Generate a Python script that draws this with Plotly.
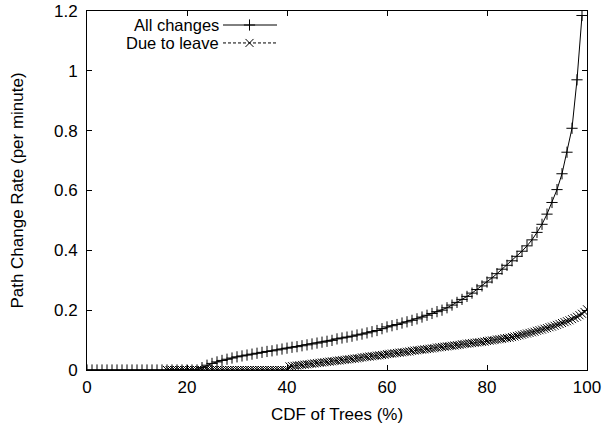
"""Path change rate vs CDF of trees, gnuplot-style line chart."""

import numpy as np
import plotly.graph_objects as go

FONT = "Liberation Sans, Arial, sans-serif"
FONT_SIZE = 17

# all changes: one point per percent, 0..99
ALL_X = np.arange(0, 100, 1.0)
ALL_Y = [
    0, 0, 0, 0, 0, 0, 0, 0, 0, 0,
    0, 0, 0, 0, 0, 0, 0, 0, 0, 0,
    0, 0, 0, 0.008, 0.016, 0.022, 0.027, 0.032, 0.036, 0.040,
    0.044, 0.047, 0.050, 0.053, 0.056, 0.059, 0.062, 0.064, 0.067, 0.070,
    0.073, 0.076, 0.078, 0.081, 0.084, 0.087, 0.090, 0.093, 0.096, 0.099,
    0.104, 0.107, 0.110, 0.113, 0.117, 0.120, 0.124, 0.128, 0.132, 0.138,
    0.144, 0.148, 0.152, 0.157, 0.161, 0.166, 0.171, 0.177, 0.183, 0.189,
    0.195, 0.200, 0.208, 0.217, 0.226, 0.236, 0.246, 0.257, 0.269, 0.281,
    0.294, 0.308, 0.322, 0.337, 0.350, 0.365, 0.380, 0.397, 0.415, 0.435,
    0.460, 0.487, 0.521, 0.560, 0.603, 0.656, 0.728, 0.808, 0.970, 1.185,
]

# due to leave: half-percent steps from 16 to 100
LEAVE_X = np.arange(16, 100.001, 0.5)
LEAVE_Y = [0] * 49 + [
    0.012, 0.013, 0.014, 0.015, 0.016, 0.017, 0.018, 0.019, 0.020, 0.021,
    0.022, 0.023, 0.024, 0.025, 0.026, 0.027, 0.028, 0.029, 0.030, 0.031,
    0.032, 0.033, 0.034, 0.035, 0.036, 0.037, 0.038, 0.039, 0.040, 0.042,
    0.043, 0.044, 0.045, 0.046, 0.047, 0.048, 0.049, 0.050, 0.051, 0.053,
    0.054, 0.055, 0.056, 0.057, 0.058, 0.059, 0.060, 0.061, 0.062, 0.064,
    0.065, 0.066, 0.067, 0.068, 0.069, 0.070, 0.071, 0.072, 0.073, 0.075,
    0.076, 0.077, 0.078, 0.079, 0.080, 0.081, 0.082, 0.083, 0.084, 0.086,
    0.087, 0.088, 0.089, 0.090, 0.091, 0.092, 0.093, 0.094, 0.095, 0.097,
    0.098, 0.099, 0.100, 0.102, 0.103, 0.104, 0.106, 0.107, 0.108, 0.110,
    0.112, 0.114, 0.116, 0.118, 0.120, 0.122, 0.124, 0.126, 0.128, 0.131,
    0.133, 0.135, 0.138, 0.140, 0.143, 0.145, 0.148, 0.151, 0.154, 0.157,
    0.160, 0.163, 0.166, 0.170, 0.174, 0.178, 0.183, 0.188, 0.194, 0.203,
]

SERIES = [
    ("All changes", ALL_X, ALL_Y, "cross-thin", "solid"),
    ("Due to leave", LEAVE_X, LEAVE_Y, "x-thin", "3px,2px"),
]

fig = go.Figure()
for name, xs, ys, symbol, dash in SERIES:
    fig.add_trace(
        go.Scatter(
            x=xs,
            y=ys,
            mode="lines+markers",
            name=name,
            line={"color": "black", "width": 1, "dash": dash},
            marker={"symbol": symbol, "size": 8, "line": {"color": "black", "width": 1}},
            showlegend=False,
        )
    )

# gnuplot-style key: text on the left, sample on the right
key_rows = [0.961, 0.911]
for (name, _xs, _ys, symbol, dash), row in zip(SERIES, key_rows):
    fig.add_trace(
        go.Scatter(
            x=[0.272, 0.325, 0.38],
            y=[row, row, row],
            mode="lines",
            line={"color": "black", "width": 1, "dash": dash},
            xaxis="x2",
            yaxis="y2",
            showlegend=False,
            hoverinfo="skip",
        )
    )
    fig.add_trace(
        go.Scatter(
            x=[0.325],
            y=[row],
            mode="markers",
            marker={"symbol": symbol, "size": 8, "line": {"color": "black", "width": 1}},
            xaxis="x2",
            yaxis="y2",
            showlegend=False,
            hoverinfo="skip",
        )
    )
    fig.add_annotation(
        x=0.266, y=row, xref="x2", yref="y2", text=name, showarrow=False, borderpad=0,
        xanchor="right", yanchor="middle", font={"family": FONT, "size": 16.5, "color": "black"},
    )

axis_style = {
    "showline": True,
    "linecolor": "black",
    "linewidth": 1,
    "mirror": "allticks",
    "ticks": "inside",
    "ticklen": 5,
    "tickcolor": "black",
    "showgrid": False,
    "zeroline": False,
    "automargin": False,
    "tickfont": {"family": FONT, "size": FONT_SIZE, "color": "black"},
}

fig.update_layout(
    width=602,
    height=424,
    margin={"l": 87, "r": 15, "t": 11, "b": 54},
    paper_bgcolor="white",
    plot_bgcolor="white",
    xaxis={
        **axis_style,
        "range": [0, 100],
        "dtick": 20,
        "ticklabelstandoff": 2,
        "title": {"text": "CDF of Trees (%)", "font": {"family": FONT, "size": FONT_SIZE, "color": "black"}, "standoff": 15},
    },
    yaxis={
        **axis_style,
        "range": [0, 1.2],
        "dtick": 0.2,
        "ticklabelstandoff": 5,
        "title": {"text": "Path Change Rate (per minute)", "font": {"family": FONT, "size": FONT_SIZE, "color": "black"}, "standoff": 26},
    },
    xaxis2={"overlaying": "x", "range": [0, 1], "visible": False},
    yaxis2={"overlaying": "y", "range": [0, 1], "visible": False},
    showlegend=False,
)

# drop the browser's default 8px body margin so the figure sits at the page origin
fig.write_html(
    "out.html",
    config={"displayModeBar": False},
    post_script="document.body.style.margin = '0';",
)
